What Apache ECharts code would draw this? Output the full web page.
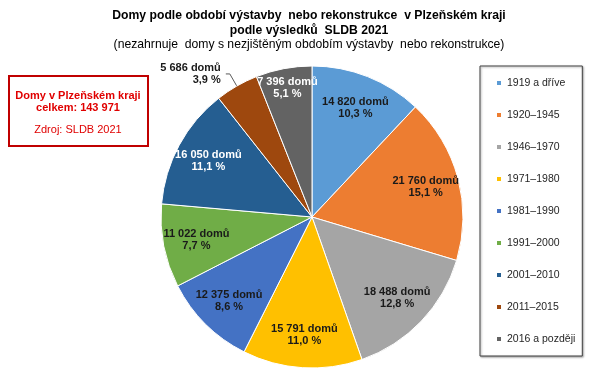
<!DOCTYPE html>
<html>
<head>
<meta charset="utf-8">
<script src="https://cdn.jsdelivr.net/npm/echarts@6/dist/echarts.min.js"></script>
<style>
  html, body {margin: 0; padding: 0; background: #fff;}
  #chart {width: 605px; height: 376px;}
</style>
</head>
<body>
<div id="chart"></div>
<script>
// období výstavby / rekonstrukce
const periods = ['1919 a dříve', '1920–1945', '1946–1970', '1971–1980', '1981–1990', '1991–2000', '2001–2010', '2011–2015', '2016 a později'];
const houses = [14820, 21760, 18488, 15791, 12375, 11022, 16050, 5686, 7396];
const colors = ['#5B9BD5', '#ED7D31', '#A5A5A5', '#FFC000', '#4472C4', '#70AD47', '#255E91', '#9E480E', '#636363'];
const totalHouses = 143971; // vč. domů s nezjištěným obdobím
const whiteLabels = ['2001–2010', '2016 a později'];
const outsideLabels = ['2011–2015'];
const outerLabels = ['2016 a později']; // popisek blíž k okraji

const font = 'Liberation Sans, Arial, sans-serif';
const fmtNum = v => String(v).replace(/\B(?=(\d{3})+(?!\d))/g, ' ');
const fmtPct = v => (v / totalHouses * 100).toFixed(1).replace('.', ',') + ' %';

const center = [312, 217];
const R = 151;

const labelBase = {
  show: true,
  position: 'inside',
  fontFamily: font,
  fontSize: 11,
  fontWeight: 'bold',
  lineHeight: 12,
  color: '#1a1a1a',
  formatter: p => fmtNum(p.value) + ' domů\n' + fmtPct(p.value)
};

const chart = echarts.init(document.getElementById('chart'));
chart.setOption({
  animation: false,
  color: colors,
  title: {
    text: 'Domy podle období výstavby  nebo rekonstrukce  v Plzeňském kraji\npodle výsledků  SLDB 2021',
    subtext: '(nezahrnuje  domy s nezjištěným obdobím výstavby  nebo rekonstrukce)',
    left: 309,
    top: 8,
    textAlign: 'center',
    padding: 0,
    itemGap: 0,
    textStyle: {fontFamily: font, fontSize: 12.2, fontWeight: 'bold', color: '#000', lineHeight: 15},
    subtextStyle: {fontFamily: font, fontSize: 12.2, color: '#000', lineHeight: 14}
  },
  legend: {
    orient: 'vertical',
    left: 480,
    top: 66,
    padding: [10, 7, 10, 15],
    itemWidth: 6,
    itemHeight: 6,
    itemGap: 18,
    icon: 'rect',
    borderColor: '#404040',
    borderWidth: 1,
    backgroundColor: '#fff',
    shadowColor: 'rgba(0,0,0,0.35)',
    shadowBlur: 2,
    shadowOffsetX: 1,
    shadowOffsetY: 1,
    data: periods,
    textStyle: {fontFamily: font, fontSize: 10.5, color: '#262626', lineHeight: 14}
  },
  graphic: [
    {
      type: 'rect',
      left: 8, top: 75,
      shape: {width: 139, height: 70},
      style: {fill: '#fff', stroke: '#C00000', lineWidth: 2}
    },
    {
      type: 'text',
      x: 78, y: 90,
      style: {
        text: 'Domy v Plzeňském kraji\ncelkem: ' + fmtNum(totalHouses),
        font: 'bold 11px ' + font,
        fill: '#E00000',
        align: 'center',
        lineHeight: 12
      }
    },
    {
      type: 'text',
      x: 78, y: 124,
      style: {
        text: 'Zdroj: SLDB 2021',
        font: '11px ' + font,
        fill: '#E00000',
        align: 'center'
      }
    }
  ],
  series: [
    {
      type: 'pie',
      center: center,
      radius: [0, R],
      startAngle: 90,
      clockwise: true,
      label: {show: false},
      labelLine: {show: false},
      itemStyle: {borderColor: '#fff', borderWidth: 1},
      data: periods.map((p, i) => ({name: p, value: houses[i]}))
    },
    {
      // neviditelná vrstva jen pro popisky ve 3/4 poloměru
      type: 'pie',
      center: center,
      radius: [R * 0.52, R],
      startAngle: 90,
      clockwise: true,
      silent: true,
      legendHoverLink: false,
      itemStyle: {color: 'rgba(0,0,0,0)'},
      label: labelBase,
      labelLine: {show: false},
      data: periods.map((p, i) => {
        const d = {name: p, value: houses[i]};
        if (whiteLabels.includes(p)) d.label = {color: '#fff'};
        if (outerLabels.includes(p)) d.label = {show: false};
        if (outsideLabels.includes(p)) {
          d.label = {position: 'outside', color: '#1a1a1a', align: 'center'};
          d.labelLine = {show: true, length: 14, length2: 4, lineStyle: {color: '#595959', width: 1}};
        }
        return d;
      })
    },
    {
      // druhá vrstva pro popisek posledního výseče
      type: 'pie',
      center: center,
      radius: [R * 0.7, R],
      startAngle: 90,
      clockwise: true,
      silent: true,
      legendHoverLink: false,
      itemStyle: {color: 'rgba(0,0,0,0)'},
      label: Object.assign({}, labelBase, {color: '#fff'}),
      labelLine: {show: false},
      data: periods.map((p, i) => {
        const d = {name: p, value: houses[i]};
        if (!outerLabels.includes(p)) d.label = {show: false};
        return d;
      })
    }
  ]
});
</script>
</body>
</html>
